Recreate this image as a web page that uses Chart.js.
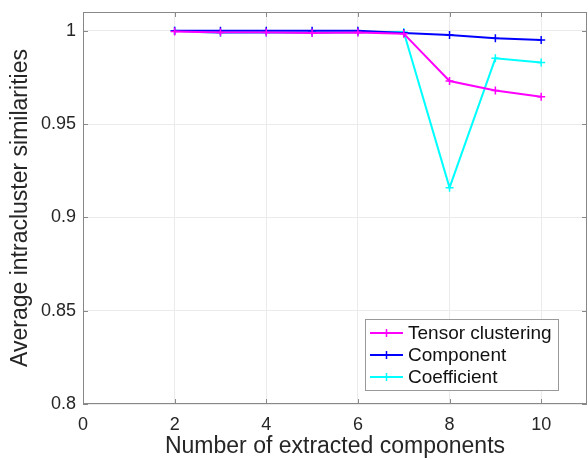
<!DOCTYPE html>
<html>
<head>
<meta charset="utf-8">
<script src="https://cdn.jsdelivr.net/npm/chart.js@4/dist/chart.umd.min.js"></script>
<style>
  html, body { margin: 0; padding: 0; background: #fff; }
  #wrap { width: 588px; height: 460px; }
</style>
</head>
<body>
<div id="wrap"><canvas id="sim_chart" width="588" height="460"></canvas></div>
<script>
const components = [2, 3, 4, 5, 6, 7, 8, 9, 10];
const tensorClustering = [0.9995, 0.999, 0.999, 0.9988, 0.999, 0.9984, 0.973, 0.968, 0.9646];
const componentSim = [1.0, 1.0, 1.0, 1.0, 0.9999, 0.9988, 0.9977, 0.996, 0.995];
const coefficientSim = [1.0, 0.9987, 0.9989, 0.9987, 0.9992, 0.9993, 0.9159, 0.9852, 0.983];
const xTicks = [0, 2, 4, 6, 8, 10];
const yTicks = [0.8, 0.85, 0.9, 0.95, 1];

const FONT = "'Liberation Sans', Arial, Helvetica, sans-serif";

function toPoints(values) {
  return components.map(function (c, i) {
    return { x: c, y: values[i] };
  });
}

function series(label, values, color) {
  return {
    label: label,
    data: toPoints(values),
    borderColor: color,
    backgroundColor: color,
    borderWidth: 2,
    pointStyle: "cross",
    pointRadius: 4,
    pointBorderWidth: 1.5,
    tension: 0,
  };
}

// stretch the plot area out to the right edge of the canvas
const fullWidth = {
  id: "fullWidth",
  afterLayout(chart) {
    const xs = chart.scales.x;
    const right = chart.width - 1;
    chart.chartArea.right = right;
    chart.chartArea.width = right - chart.chartArea.left;
    xs.right = right;
    xs.width = right - xs.left;
    xs.configure();
  },
};

// box around the plot, inward ticks, and the legend inside the axes
const matlabAxes = {
  id: "matlabAxes",
  afterDatasetsDraw(chart) {
    const c = chart.ctx;
    const a = chart.chartArea;
    const xs = chart.scales.x;
    const ys = chart.scales.y;
    c.save();
    c.strokeStyle = "#888888";
    c.lineWidth = 1;
    xTicks.forEach(function (t) {
      const px = Math.round(xs.getPixelForValue(t)) + 0.5;
      c.beginPath();
      c.moveTo(px, a.bottom); c.lineTo(px, a.bottom - 5);
      c.moveTo(px, a.top); c.lineTo(px, a.top + 5);
      c.stroke();
    });
    yTicks.forEach(function (t) {
      const py = Math.round(ys.getPixelForValue(t)) + 0.5;
      c.beginPath();
      c.moveTo(a.left, py); c.lineTo(a.left + 5, py);
      c.moveTo(a.right, py); c.lineTo(a.right - 5, py);
      c.stroke();
    });
    c.strokeRect(a.left + 0.5, a.top + 0.5, a.right - a.left - 1, a.bottom - a.top - 1);

    // legend
    const lx = 365, ly = 319, lw = 193, lh = 71;
    c.fillStyle = "#ffffff";
    c.fillRect(lx, ly, lw, lh);
    c.strokeStyle = "#999999";
    c.strokeRect(lx + 0.5, ly + 0.5, lw, lh);
    c.font = "19px " + FONT;
    c.textBaseline = "middle";
    chart.data.datasets.forEach(function (ds, i) {
      const yy = ly + 14 + i * 22;
      c.strokeStyle = ds.borderColor;
      c.lineWidth = 2;
      c.beginPath();
      c.moveTo(lx + 5, yy); c.lineTo(lx + 38, yy);
      c.stroke();
      c.lineWidth = 1.5;
      c.beginPath();
      c.moveTo(lx + 21.5, yy - 4); c.lineTo(lx + 21.5, yy + 4);
      c.stroke();
      c.fillStyle = "#111111";
      c.fillText(ds.label, lx + 43, yy + 1);
    });
    c.restore();
  },
};

const ctx = document.getElementById("sim_chart");
new Chart(ctx, {
  type: "line",
  data: {
    datasets: [
      series("Tensor clustering", tensorClustering, "#ff00ff"),
      series("Component", componentSim, "#0000ff"),
      series("Coefficient", coefficientSim, "#00ffff"),
    ],
  },
  options: {
    responsive: false,
    animation: false,
    layout: {
      padding: { top: 12, right: 1, left: 0, bottom: 0 },
    },
    plugins: {
      legend: { display: false },
      tooltip: { enabled: false },
    },
    scales: {
      x: {
        type: "linear",
        min: 0,
        max: 11,
        afterFit: function (scale) {
          scale.height = 56;
          scale.paddingLeft = 0;
          scale.paddingRight = 0;
        },
        afterBuildTicks: function (scale) {
          scale.ticks = xTicks.map(function (v) { return { value: v }; });
        },
        grid: { color: "#ebebeb", drawTicks: false },
        border: { display: false },
        ticks: {
          padding: 10,
          color: "#262626",
          font: { family: FONT, size: 18 },
        },
        title: {
          display: true,
          text: "Number of extracted components",
          color: "#262626",
          font: { family: FONT, size: 23 },
          padding: { top: 0, bottom: 0 },
        },
      },
      y: {
        type: "linear",
        min: 0.8,
        max: 1.01,
        afterFit: function (scale) {
          scale.width = 83;
          scale.paddingTop = 0;
          scale.paddingBottom = 0;
        },
        afterBuildTicks: function (scale) {
          scale.ticks = yTicks.map(function (v) { return { value: v }; });
        },
        grid: { color: "#ebebeb", drawTicks: false },
        border: { display: false },
        ticks: {
          padding: 7,
          color: "#262626",
          font: { family: FONT, size: 18 },
          callback: function (value) {
            return String(+value.toFixed(2));
          },
        },
        title: {
          display: true,
          text: "Average intracluster similarities",
          color: "#262626",
          font: { family: FONT, size: 23 },
          padding: { top: 7, bottom: 0 },
        },
      },
    },
  },
  plugins: [fullWidth, matlabAxes],
});
</script>
</body>
</html>
